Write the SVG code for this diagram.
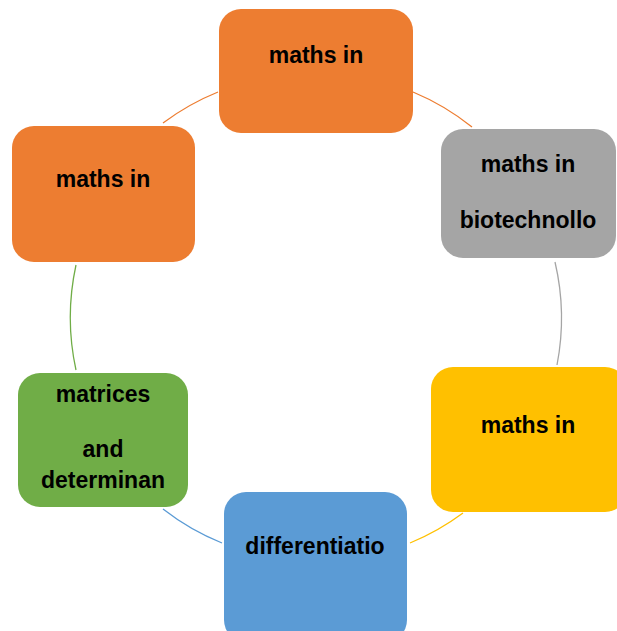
<svg xmlns="http://www.w3.org/2000/svg" width="617" height="631" viewBox="0 0 617 631">
<style>
.t{font-family:"Liberation Sans",Arial,sans-serif;font-weight:bold;font-size:23px;fill:#000;text-anchor:middle}
.c{fill:none;stroke-width:1.3}
</style>
<rect width="617" height="631" fill="#fff"/>
<g id="connectors">
<path class="c" stroke="#ED7D31" d="M163,123 A246,246 0 0 1 218,92"/>
<path class="c" stroke="#ED7D31" d="M413,92 A246,246 0 0 1 472,127"/>
<path class="c" stroke="#A5A5A5" d="M555,262 A246,246 0 0 1 557,365"/>
<path class="c" stroke="#FFC000" d="M463,513 A246,246 0 0 1 410,543"/>
<path class="c" stroke="#5B9BD5" d="M222,543 A246,246 0 0 1 163,509"/>
<path class="c" stroke="#70AD47" d="M76,370 A246,246 0 0 1 76,265"/>
</g>
<g id="n1">
<rect x="219" y="9" width="194" height="124" rx="22" fill="#ED7D31"/>
<text class="t" x="316" y="63">maths in</text>
</g>
<g id="n2">
<rect x="441" y="129" width="175" height="129" rx="22" fill="#A5A5A5"/>
<text class="t" x="528" y="172">maths in</text>
<text class="t" x="528" y="228">biotechnollo</text>
</g>
<g id="n3">
<rect x="431" y="367" width="196" height="145" rx="22" fill="#FFC000"/>
<text class="t" x="528" y="433">maths in</text>
</g>
<g id="n4">
<rect x="224" y="492" width="183" height="150" rx="22" fill="#5B9BD5"/>
<text class="t" x="315" y="554">differentiatio</text>
</g>
<g id="n5">
<rect x="18" y="373" width="170" height="134" rx="22" fill="#70AD47"/>
<text class="t" x="103" y="402">matrices</text>
<text class="t" x="103" y="457">and</text>
<text class="t" x="103" y="488">determinan</text>
</g>
<g id="n6">
<rect x="12" y="126" width="183" height="136" rx="22" fill="#ED7D31"/>
<text class="t" x="103" y="187">maths in</text>
</g>
</svg>
